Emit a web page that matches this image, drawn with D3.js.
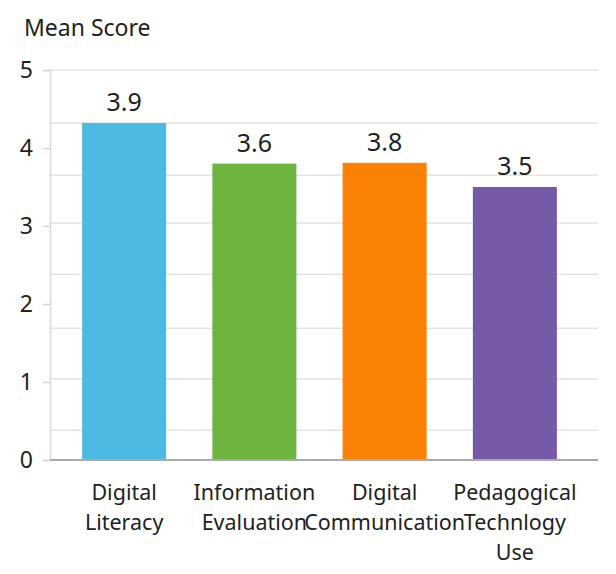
<!DOCTYPE html>
<html><head><meta charset="utf-8">
<script src="https://cdn.jsdelivr.net/npm/d3@7"></script>
<style>body{margin:0;background:#fff;}svg{display:block;font-family:"Noto Sans",sans-serif;}</style>
</head><body>
<svg id="c" width="616" height="574"></svg>
<script>
const categories = [["Digital","Literacy"],["Information","Evaluation"],["Digital","Communication"],["Pedagogical","Technlogy","Use"]];
const barValues = [4.32, 3.8, 3.81, 3.5];
const valueLabels = ["3.9","3.6","3.8","3.5"];
const colors = ["#4BB9E2","#6CB43F","#FB8104","#765AA7"];
const yTicks = [0,1,2,3,4,5];
const gridValues = [0.38,1.04,1.69,2.38,3.04,3.65,4.32,5];

const svg = d3.select("#c");
const mLeft = 50, mRight = 598, mTop = 70, mBottom = 460;
const y = d3.scaleLinear().domain([0,5]).range([mBottom, mTop]);
const x = d3.scaleBand().domain(d3.range(categories.length)).range([59, 580]).paddingInner(0.355).paddingOuter(0.1775);

// gridlines
svg.append("g").selectAll("line").data(gridValues).join("line")
  .attr("x1", mLeft).attr("x2", mRight)
  .attr("y1", d => y(d)).attr("y2", d => y(d))
  .attr("stroke", "#e3e3e3").attr("stroke-width", 1.5);

// y axis
const ya = svg.append("g").attr("transform", `translate(${mLeft},0)`)
  .call(d3.axisLeft(y).tickValues(yTicks).tickFormat(d3.format("d")).tickSize(7).tickPadding(10));
ya.select(".domain").attr("stroke", "#d6d6d6").attr("stroke-width", 1.5);
ya.selectAll(".tick line").attr("stroke", "#d6d6d6").attr("stroke-width", 1.5);
ya.selectAll(".tick text").attr("font-size", 23).attr("fill", "#222").attr("font-family", "Noto Sans");

// bars
svg.append("g").selectAll("rect").data(barValues).join("rect")
  .attr("x", (d,i) => x(i)).attr("width", x.bandwidth())
  .attr("y", d => y(d)).attr("height", d => y(0) - y(d))
  .attr("fill", (d,i) => colors[i]);

// value labels
svg.append("g").selectAll("text").data(barValues).join("text")
  .attr("x", (d,i) => x(i) + x.bandwidth()/2)
  .attr("y", d => y(d) - 12)
  .attr("text-anchor", "middle").attr("font-size", 25).attr("fill", "#222")
  .text((d,i) => valueLabels[i]);

// x axis line
svg.append("line").attr("x1", mLeft).attr("x2", mRight).attr("y1", mBottom).attr("y2", mBottom)
  .attr("stroke", "#aaaaaa").attr("stroke-width", 2);

// x labels
const xl = svg.append("g").selectAll("text").data(categories).join("text")
  .attr("x", (d,i) => x(i) + x.bandwidth()/2)
  .attr("y", 500)
  .attr("text-anchor", "middle").attr("font-size", 21.5).attr("fill", "#222");
xl.selectAll("tspan").data(d => d).join("tspan")
  .attr("x", function(){ return this.parentNode.getAttribute("x"); })
  .attr("dy", (d,i) => i === 0 ? 0 : 30)
  .text(d => d);

// y title
svg.append("text").attr("x", 24).attr("y", 36).attr("font-size", 23).attr("fill", "#222").text("Mean Score");
</script>
</body></html>
